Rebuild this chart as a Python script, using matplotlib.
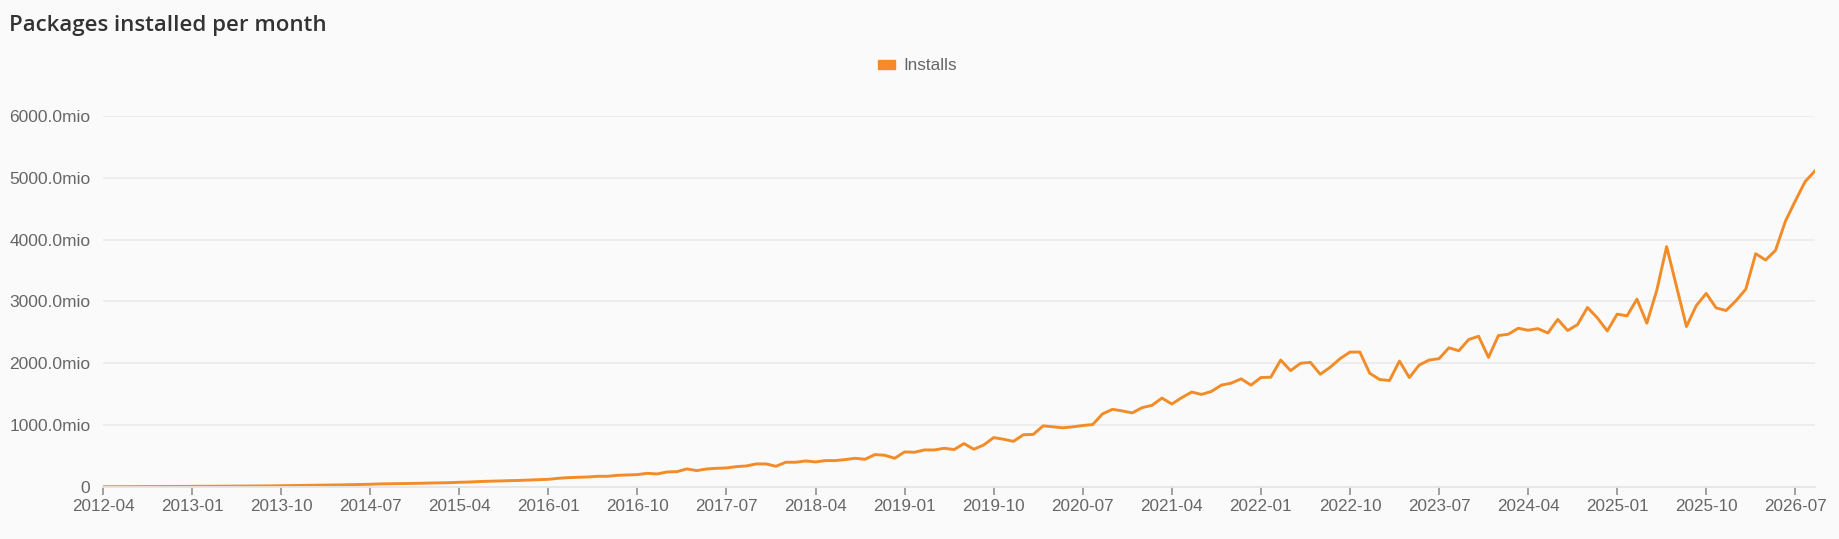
import matplotlib
matplotlib.use("Agg")
import matplotlib.pyplot as plt
from matplotlib.patches import Patch
import pandas as pd

### Monthly install counts (millions), 2012-04 .. 2026-09 ###
months = [str(p) for p in pd.period_range("2012-04", "2026-09", freq="M")]

installs = [
    5, 5, 6, 6, 7, 7, 8, 8, 9, 10,
    11, 12, 13, 13, 14, 15, 17, 18, 21, 23,
    25, 27, 29, 31, 34, 37, 40, 44, 50, 52,
    55, 57, 60, 63, 66, 70, 76, 80, 88, 93,
    97, 102, 106, 112, 118, 124, 140, 151, 157, 162,
    173, 173, 189, 194, 200, 221, 211, 243, 248, 292,
    265, 292, 302, 308, 329, 340, 373, 373, 335, 400,
    400, 421, 405, 427, 427, 443, 464, 448, 524, 513,
    464, 567, 562, 599, 599, 626, 605, 702, 610, 680,
    799, 772, 738, 845, 850, 989, 973, 957, 973, 994,
    1010, 1182, 1256, 1230, 1198, 1283, 1321, 1438, 1342, 1444,
    1535, 1497, 1545, 1647, 1679, 1749, 1647, 1770, 1775, 2053,
    1882, 2000, 2016, 1823, 1936, 2075, 2182, 2182, 1839, 1738,
    1722, 2037, 1770, 1973, 2053, 2075, 2251, 2203, 2385, 2438,
    2096, 2449, 2470, 2567, 2535, 2561, 2490, 2710, 2530, 2627,
    2903, 2735, 2524, 2795, 2768, 3038, 2649, 3179, 3887, 3243,
    2595, 2935, 3130, 2897, 2854, 3011, 3200, 3773, 3670, 3827,
    4297, 4627, 4941, 5114,
]

yticks = [0, 1000, 2000, 3000, 4000, 5000, 6000]
ytick_labels = ["0"] + ["%.1fmio" % v for v in yticks[1:]]

bg = "#fafafa"
orange = "#f28c28"
grey = "#666666"

plt.rcParams["font.family"] = ["Liberation Sans", "DejaVu Sans"]

fig = plt.figure(figsize=(18.39, 5.39), dpi=100, facecolor=bg)
ax = fig.add_axes([0.056, 0.0965, 0.931, 0.6883], facecolor=bg)

x = list(range(len(months)))
ax.plot(x, installs, color=orange, linewidth=2.1, solid_joinstyle="round")

ax.set_xlim(0, len(months) - 1)
ax.set_ylim(0, 6000)

ax.set_yticks(yticks)
ax.set_yticklabels(ytick_labels)
ax.set_xticks(x[::9])
ax.set_xticklabels(months[::9])

ax.grid(axis="y", color="#ececec", linewidth=1.3)
ax.set_axisbelow(True)
for s in ["top", "right", "left"]:
    ax.spines[s].set_visible(False)
ax.spines["bottom"].set_color("#e6e6e6")
ax.spines["bottom"].set_linewidth(1.3)

ax.tick_params(axis="y", length=0, pad=9, labelsize=12.5, labelcolor=grey)
ax.tick_params(axis="x", length=6, width=1.3, color="#999999", pad=3,
               labelsize=12.3, labelcolor=grey)

### Title and legend ###
fig.text(0.005, 1 - 26 / 539, "Packages installed per month", ha="left",
         va="center", fontsize=16, fontweight="semibold", color="#333333",
         family=["Open Sans", "DejaVu Sans"])

handle = Patch(facecolor=orange, edgecolor=orange, label="Installs")
fig.legend(handles=[handle], loc="center", bbox_to_anchor=(0.499, 1 - 66 / 539),
           frameon=False, handlelength=0.95, handleheight=0.45,
           handletextpad=0.5, fontsize=12.3, labelcolor=grey)

fig.savefig("out.png", dpi=100, facecolor=bg)
